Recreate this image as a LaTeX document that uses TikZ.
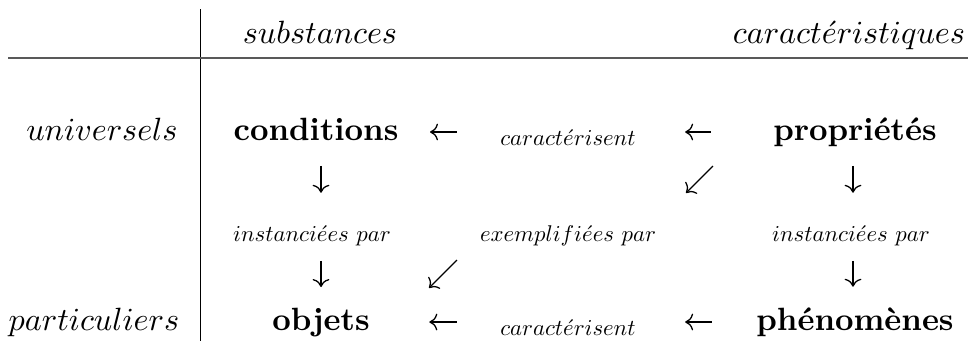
\documentclass[tikz,border=0pt]{standalone}
\usetikzlibrary{arrows.meta,calc}

\begin{document}
\begin{tikzpicture}[x=0.3106pt,y=-0.3106pt,
  every node/.style={inner sep=0pt,anchor=base},
  petit/.style={scale=0.707},
  arr/.style={-{To},line width=0.4pt},
  rule/.style={line width=0.4pt}]
\useasboundingbox (0,0) rectangle (968,341);

\coordinate (r1) at (0,132);
\coordinate (r5) at (0,322);
\coordinate (k1) at (321,0);
\coordinate (k3) at (853,0);

\draw[rule] (200.7,9) -- (200.7,341);
\draw[rule,black!65] (8,58) -- (968,58);

\node (sub) at (320,43) {$substances$};
\node (carac) at (849,43) {$caract\acute{e}ristiques$};
\node (univ) at (102,140) {$universels$};
\node (part) at (94,330) {$particuliers$};

\node (cond) at (316,140) {\textbf{conditions}};
\node (prop) at (855,140) {\textbf{propriétés}};
\node (obj) at (321,330) {\textbf{objets}};
\node (phen) at (855,330) {\textbf{phénomènes}};

\node[petit] (carA) at (568,145) {$caract\acute{e}risent$};
\node[petit] (carB) at (568,335) {$caract\acute{e}risent$};
\node[petit] (instA) at (312,241) {$instanci\acute{e}es\ par$};
\node[petit] (expl) at (568,241) {$exemplifi\acute{e}es\ par$};
\node[petit] (instB) at (851,241) {$instanci\acute{e}es\ par$};

\draw[arr] ($(carA.west |- r1)+(-43,0)$) -- ($(cond.east |- r1)+(31,0)$);
\draw[arr] ($(prop.west |- r1)+(-62,0)$) -- ($(carA.east |- r1)+(49,0)$);
\draw[arr] ($(carB.west |- r5)+(-43,0)$) -- ($(obj.east |- r5)+(59,0)$);
\draw[arr] ($(phen.west |- r5)+(-44,0)$) -- ($(carB.east |- r5)+(49,0)$);

\draw[arr] ($(cond.south -| k1)+(0,25)$) -- ($(instA.north -| k1)+(0,-32)$);
\draw[arr] ($(instA.south -| k1)+(0,15)$) -- ($(obj.north -| k1)+(0,-20)$);
\draw[arr] ($(prop.south -| k3)+(0,19)$) -- ($(instB.north -| k3)+(0,-32)$);
\draw[arr] ($(instB.south -| k3)+(0,15)$) -- ($(phen.north -| k3)+(0,-20)$);

\coordinate (dA) at (713,166);
\coordinate (dB) at (686,193);
\coordinate (dC) at (457,260);
\coordinate (dD) at (429,288);
\draw[arr] (dA) -- (dB);
\draw[arr] (dC) -- (dD);

\end{tikzpicture}
\end{document}
